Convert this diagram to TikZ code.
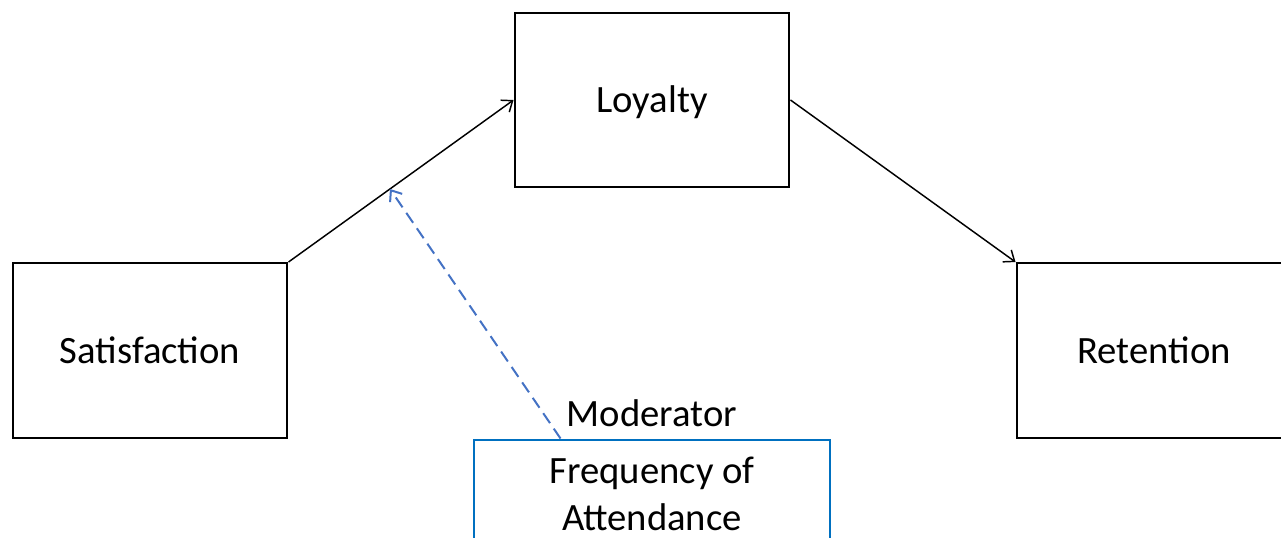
\documentclass[tikz,border=0pt]{standalone}
\usepackage{fontspec}
\setmainfont{Carlito}
\usetikzlibrary{arrows.meta,calc}

\definecolor{modblue}{RGB}{0,112,192}
\definecolor{dashblue}{RGB}{68,114,196}

\begin{document}
\begin{tikzpicture}[x=0.75pt,y=-0.75pt,
    >={Straight Barb[length=7pt,width=11pt]},
    factor/.style={draw,line width=1.7pt,minimum width=206pt,minimum height=131pt,
      inner sep=0pt,font=\fontsize{29}{35}\selectfont,text depth=1pt},
    modbox/.style={draw=modblue,line width=2.2pt,minimum width=267pt,minimum height=81pt,
      inner sep=0pt,align=center,font=\fontsize{29}{35}\selectfont},
    path/.style={line width=1.1pt,->}]
  \useasboundingbox (0,0) rectangle (1281,537);
  \node[factor] (sat) at (150,350.5) {Satisfaction};
  \node[factor] (loy) at (652,100) {Loyalty};
  \node[factor] (ret) at (1154,350.5) {Retention};
  \node[modbox] (freq) at (652,494) {Frequency of\\Attendance};
  \node[font=\fontsize{29}{35}\selectfont] (mod) at (652,413) {Moderator};
  \draw[path] (sat.north east) -- (loy.west);
  \draw[path] (loy.east) -- (ret.north west);
  % moderating effect on the satisfaction-loyalty link
  \coordinate (hit) at ($(sat.north east)!0.451!(loy.west)$);
  \coordinate (src) at ($(freq.north west)+(88,0)$);
  \draw[path,dashed,dash pattern=on 9pt off 5pt,dashblue,line width=1.5pt] (src) -- (hit);
\end{tikzpicture}
\end{document}
